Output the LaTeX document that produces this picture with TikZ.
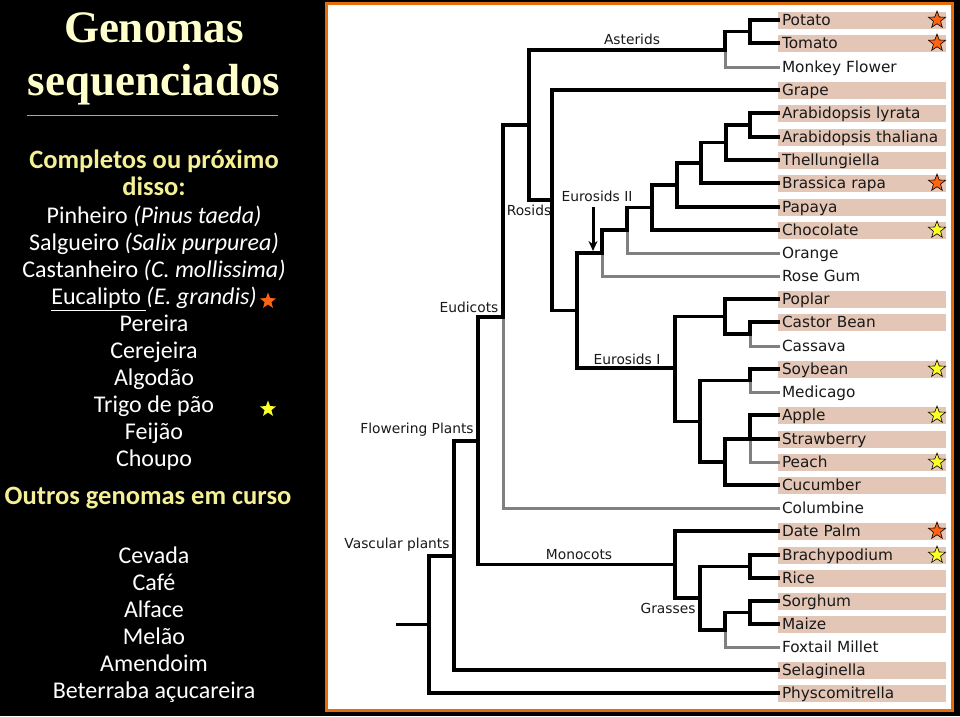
\documentclass[tikz,border=0pt]{standalone}
\usepackage{fontspec}
\setmainfont{Carlito}
\newfontfamily\treefont{DejaVu Sans}
\newfontfamily\titlefont{Liberation Serif}
\usepackage{xcolor}
\usepackage{tikz}
\usetikzlibrary{shapes.geometric, arrows.meta, positioning}

\definecolor{panelorange}{RGB}{228,108,10}
\definecolor{titlecream}{RGB}{255,255,204}
\definecolor{headyellow}{RGB}{245,240,150}
\definecolor{leafpink}{RGB}{228,198,182}
\definecolor{lineagegray}{RGB}{128,128,128}
\definecolor{staryellow}{RGB}{255,255,40}
\definecolor{starorange}{RGB}{255,100,20}

\begin{document}
\begin{tikzpicture}[
    x=1pt, y=-1pt,
    node distance=27pt,
    titletext/.style={anchor=base, text=titlecream, font=\titlefont\bfseries\fontsize{45}{53}\selectfont, inner sep=0pt},
    heading/.style={anchor=base, text=headyellow, font=\bfseries\fontsize{26.5}{27}\selectfont, inner sep=0pt},
    item/.style={text=white, font=\fontsize{24}{27}\selectfont, text height=17pt, text depth=6pt, inner sep=0pt, outer sep=0pt},
    leaf/.style={anchor=west, font=\treefont\fontsize{15.3}{18}\selectfont, text=black!90, text width=160pt, align=left, text height=12pt, text depth=2pt, inner xsep=4pt, inner ysep=1.5pt, outer sep=0pt},
    seq/.style={leaf, fill=leafpink},
    clade/.style={anchor=base, font=\treefont\fontsize{13.8}{16}\selectfont, text=black!90, inner sep=0pt},
    branch/.style={line width=3.6pt, line cap=rect, black},
    greybranch/.style={line width=3pt, line cap=rect, lineagegray},
    panelstar/.style={star, star points=5, star point ratio=2.4, minimum size=17pt, inner sep=0pt},
    orangestar/.style={panelstar, minimum size=18pt, fill=starorange, draw=black, line width=0.6pt},
    yellowstar/.style={orangestar, fill=staryellow}
]

    % background and framed panel
    \fill[black] (0,0) rectangle (960,716);
    \draw[panelorange, line width=3pt, fill=white] (326.5,3.5) rectangle (952.5,710.5);

    % left column
    \node (title) [titletext] at (154,42) {Genomas};
    \node (title2) [titletext] at (154,95) {sequenciados};
    \draw[gray!70, line width=1pt] (27,115) -- (278,115);

    \node (complete) [heading] at (154,168) {Completos ou próximo};
    \node (complete2) [heading] at (154,195) {disso:};
    \node (pinheiro) [item] at (154,218) {Pinheiro \textit{(Pinus taeda)}};
    \node (salgueiro) [item, below of=pinheiro] {Salgueiro \textit{(Salix purpurea)}};
    \node (castanheiro) [item, below of=salgueiro] {Castanheiro \textit{(C. mollissima)}};
    \node (eucalipto) [item, below of=castanheiro] {\underline{Eucalipto\ }\textit{(E. grandis)}};
    \node (pereira) [item, below of=eucalipto] {Pereira};
    \node (cerejeira) [item, below of=pereira] {Cerejeira};
    \node (algodao) [item, below of=cerejeira] {Algodão};
    \node (trigo) [item, below of=algodao] {Trigo de pão};
    \node (feijao) [item, below of=trigo] {Feijão};
    \node (choupo) [item, below of=feijao] {Choupo};
    \node (eucstar) [panelstar, fill=starorange] at (268,301) {};
    \node (trigostar) [panelstar, fill=staryellow] at (268,409) {};

    \node (outros) [heading] at (148,504) {Outros genomas em curso};
    \node (cevada) [item] at (154,557.5) {Cevada};
    \node (cafe) [item, below of=cevada] {Café};
    \node (alface) [item, below of=cafe] {Alface};
    \node (melao) [item, below of=alface] {Melão};
    \node (amendoim) [item, below of=melao] {Amendoim};
    \node (beterraba) [item, below of=amendoim] {Beterraba açucareira};

    % leaves
    \node (potato) [seq] at (778,20) {Potato};
    \node (tomato) [seq] at (778,43) {Tomato};
    \node (monkey) [leaf] at (778,67) {Monkey Flower};
    \node (grape) [seq] at (778,90) {Grape};
    \node (alyrata) [seq] at (778,113) {Arabidopsis lyrata};
    \node (athaliana) [seq] at (778,137) {Arabidopsis thaliana};
    \node (thell) [seq] at (778,160) {Thellungiella};
    \node (brassica) [seq] at (778,183) {Brassica rapa};
    \node (papaya) [seq] at (778,207) {Papaya};
    \node (choc) [seq] at (778,230) {Chocolate};
    \node (orange) [leaf] at (778,253) {Orange};
    \node (rosegum) [leaf] at (778,276) {Rose Gum};
    \node (poplar) [seq] at (778,299) {Poplar};
    \node (castor) [seq] at (778,322) {Castor Bean};
    \node (cassava) [leaf] at (778,346) {Cassava};
    \node (soybean) [seq] at (778,369) {Soybean};
    \node (medicago) [leaf] at (778,392) {Medicago};
    \node (apple) [seq] at (778,415) {Apple};
    \node (strawb) [seq] at (778,439) {Strawberry};
    \node (peach) [seq] at (778,462) {Peach};
    \node (cucumber) [seq] at (778,485) {Cucumber};
    \node (columbine) [leaf] at (778,508) {Columbine};
    \node (datepalm) [seq] at (778,531) {Date Palm};
    \node (brachy) [seq] at (778,555) {Brachypodium};
    \node (rice) [seq] at (778,578) {Rice};
    \node (sorghum) [seq] at (778,601) {Sorghum};
    \node (maize) [seq] at (778,624) {Maize};
    \node (foxtail) [leaf] at (778,647) {Foxtail Millet};
    \node (selag) [seq] at (778,670) {Selaginella};
    \node (physco) [seq] at (778,693) {Physcomitrella};

    \node [orangestar] (s1) at (937,20) {};
    \node [orangestar] (s2) at (937,43) {};
    \node [orangestar] (s3) at (937,183) {};
    \node [yellowstar] (s4) at (937,230) {};
    \node [yellowstar] (s5) at (937,369) {};
    \node [yellowstar] (s6) at (937,415) {};
    \node [yellowstar] (s7) at (937,462) {};
    \node [orangestar] (s8) at (937,531) {};
    \node [yellowstar] (s9) at (937,555) {};

    % inner nodes of the tree
    \coordinate (pt) at (750,31.5);
    \coordinate (ast) at (725,50);
    \coordinate (a7) at (750,125);
    \coordinate (a6) at (726,142.5);
    \coordinate (a5) at (701,163);
    \coordinate (a4) at (677,185);
    \coordinate (a3) at (652,207.5);
    \coordinate (a2) at (627,230);
    \coordinate (a1) at (602,253);
    \coordinate (ros2) at (577,310.5);
    \coordinate (e1) at (675,368);
    \coordinate (b1) at (725,316.5);
    \coordinate (b3) at (750,334);
    \coordinate (b2) at (700,421.5);
    \coordinate (b4) at (750,380.5);
    \coordinate (b5) at (725,462);
    \coordinate (b6) at (750,439);
    \coordinate (ros) at (552,200);
    \coordinate (core) at (529,125);
    \coordinate (eud) at (503,317);
    \coordinate (ang) at (478,441);
    \coordinate (mono) at (675,564.5);
    \coordinate (g1) at (700,598);
    \coordinate (g2) at (750,566.5);
    \coordinate (g3) at (725,630);
    \coordinate (g4) at (750,612.5);
    \coordinate (vasc) at (454,556);
    \coordinate (root) at (429,624.5);
    \coordinate (base) at (398,624.5);

    % grey lineages
    \draw[greybranch] (ast) |- (monkey.west);
    \draw[greybranch] (a2) |- (orange.west);
    \draw[greybranch] (a1) |- (rosegum.west);
    \draw[greybranch] (b3) |- (cassava.west);
    \draw[greybranch] (b4) |- (medicago.west);
    \draw[greybranch] (b6) |- (peach.west);
    \draw[greybranch] (eud) |- (columbine.west);
    \draw[greybranch] (g3) |- (foxtail.west);

    % sequenced lineages
    \draw[branch] (base) -- (root);
    \draw[branch] (root) |- (vasc);
    \draw[branch] (root) |- (physco.west);
    \draw[branch] (vasc) |- (ang);
    \draw[branch] (vasc) |- (selag.west);
    \draw[branch] (ang) |- (eud);
    \draw[branch] (ang) |- (mono);
    \draw[branch] (eud) |- (core);
    \draw[branch] (core) |- (ast);
    \draw[branch] (core) |- (ros);
    \draw[branch] (ast) |- (pt);
    \draw[branch] (pt) |- (potato.west);
    \draw[branch] (pt) |- (tomato.west);
    \draw[branch] (ros) |- (grape.west);
    \draw[branch] (ros) |- (ros2);
    \draw[branch] (ros2) |- (a1);
    \draw[branch] (ros2) |- (e1);
    \draw[branch] (a1) |- (a2);
    \draw[branch] (a2) |- (a3);
    \draw[branch] (a3) |- (a4);
    \draw[branch] (a3) |- (choc.west);
    \draw[branch] (a4) |- (a5);
    \draw[branch] (a4) |- (papaya.west);
    \draw[branch] (a5) |- (a6);
    \draw[branch] (a5) |- (brassica.west);
    \draw[branch] (a6) |- (a7);
    \draw[branch] (a6) |- (thell.west);
    \draw[branch] (a7) |- (alyrata.west);
    \draw[branch] (a7) |- (athaliana.west);
    \draw[branch] (e1) |- (b1);
    \draw[branch] (e1) |- (b2);
    \draw[branch] (b1) |- (poplar.west);
    \draw[branch] (b1) |- (b3);
    \draw[branch] (b3) |- (castor.west);
    \draw[branch] (b2) |- (b4);
    \draw[branch] (b2) |- (b5);
    \draw[branch] (b4) |- (soybean.west);
    \draw[branch] (b5) |- (b6);
    \draw[branch] (b5) |- (cucumber.west);
    \draw[branch] (b6) |- (apple.west);
    \draw[branch] (b6) -- (strawb.west);
    \draw[branch] (mono) |- (datepalm.west);
    \draw[branch] (mono) |- (g1);
    \draw[branch] (g1) |- (g2);
    \draw[branch] (g1) |- (g3);
    \draw[branch] (g2) |- (brachy.west);
    \draw[branch] (g2) |- (rice.west);
    \draw[branch] (g3) |- (g4);
    \draw[branch] (g4) |- (sorghum.west);
    \draw[branch] (g4) |- (maize.west);

    % clade labels
    \node (asterids) [clade] at (632,44) {Asterids};
    \node (rosids) [clade] at (529,215) {Rosids};
    \node (eurosidsII) [clade] at (597,201) {Eurosids II};
    \node (eudicots) [clade] at (469,312) {Eudicots};
    \node (eurosidsI) [clade] at (627,364) {Eurosids I};
    \node (flowering) [clade] at (417,433) {Flowering Plants};
    \node (vascular) [clade] at (397,548) {Vascular plants};
    \node (monocots) [clade] at (579,559) {Monocots};
    \node (grasses) [clade] at (668,613) {Grasses};

    \coordinate (e2tip) at (593,251);
    \draw[-{Stealth[length=10pt, width=9pt]}, line width=3pt] ([xshift=-4pt, yshift=-6pt]eurosidsII.south) -- (e2tip);

\end{tikzpicture}
\end{document}
